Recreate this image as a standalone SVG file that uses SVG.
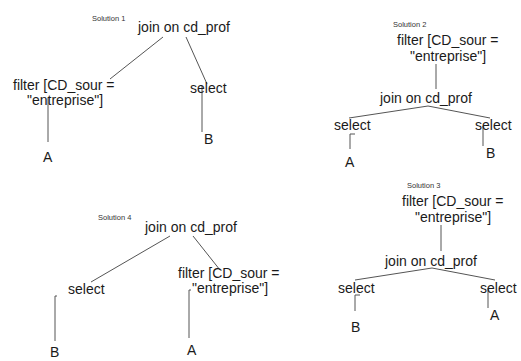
<svg xmlns="http://www.w3.org/2000/svg" width="521" height="361" viewBox="0 0 521 361">
<style>
text{font-family:"Liberation Sans",Arial,Helvetica,sans-serif;fill:#1a1a1a;font-size:14px}
text.sol{font-size:7.5px;fill:#333}
.conn line,.conn path{stroke:#555;stroke-width:1;fill:none}
</style>
<rect width="521" height="361" fill="#fff"/>
<g id="labels">
<text class="sol" x="92" y="21">Solution 1</text>
<text class="sol" x="393" y="27">Solution 2</text>
<text class="sol" x="98" y="220">Solution 4</text>
<text class="sol" x="407" y="188">Solution 3</text>
</g>
<g class="conn" id="connectors">
<line x1="163" y1="37" x2="110" y2="79"/>
<line x1="186" y1="37" x2="207" y2="84"/>
<line x1="48" y1="98" x2="48" y2="142"/>
<line x1="202" y1="86" x2="202" y2="132"/>
<line x1="436" y1="64" x2="436" y2="89"/>
<line x1="428" y1="106" x2="349" y2="118"/>
<line x1="428" y1="106" x2="490" y2="118"/>
<path d="M355,134 H350 V149"/>
<line x1="483" y1="126" x2="483" y2="146"/>
<line x1="170" y1="236" x2="91" y2="282"/>
<line x1="193" y1="236" x2="220" y2="270"/>
<path d="M57,296 H55 V341"/>
<path d="M191,290 H189 V338"/>
<line x1="441" y1="225" x2="441" y2="251"/>
<line x1="432" y1="268" x2="355" y2="280"/>
<line x1="432" y1="268" x2="495" y2="280"/>
<path d="M360,295 H355 V311"/>
<line x1="488" y1="288" x2="488" y2="308"/>
</g>
<g id="s1-join"><text x="138" y="32">join on cd_prof</text></g>
<g id="s1-filter"><text x="13" y="90">filter [CD_sour =</text><text x="27" y="105">"entreprise"]</text></g>
<g id="s1-select"><text x="190" y="93">select</text></g>
<g id="s1-A"><text x="43" y="162">A</text></g>
<g id="s1-B"><text x="204" y="144">B</text></g>
<g id="s2-filter"><text x="397" y="45">filter [CD_sour =</text><text x="410" y="61">"entreprise"]</text></g>
<g id="s2-join"><text x="380" y="103">join on cd_prof</text></g>
<g id="s2-select1"><text x="334" y="130">select</text></g>
<g id="s2-select2"><text x="475" y="130">select</text></g>
<g id="s2-A"><text x="345" y="167">A</text></g>
<g id="s2-B"><text x="486" y="158">B</text></g>
<g id="s4-join"><text x="145" y="232">join on cd_prof</text></g>
<g id="s4-select"><text x="68" y="294">select</text></g>
<g id="s4-filter"><text x="178" y="278">filter [CD_sour =</text><text x="192" y="293">"entreprise"]</text></g>
<g id="s4-B"><text x="50" y="357">B</text></g>
<g id="s4-A"><text x="187" y="355">A</text></g>
<g id="s3-filter"><text x="402" y="206">filter [CD_sour =</text><text x="415" y="222">"entreprise"]</text></g>
<g id="s3-join"><text x="385" y="266">join on cd_prof</text></g>
<g id="s3-select1"><text x="338" y="293">select</text></g>
<g id="s3-select2"><text x="480" y="293">select</text></g>
<g id="s3-B"><text x="351" y="332">B</text></g>
<g id="s3-A"><text x="490" y="320">A</text></g>
</svg>
